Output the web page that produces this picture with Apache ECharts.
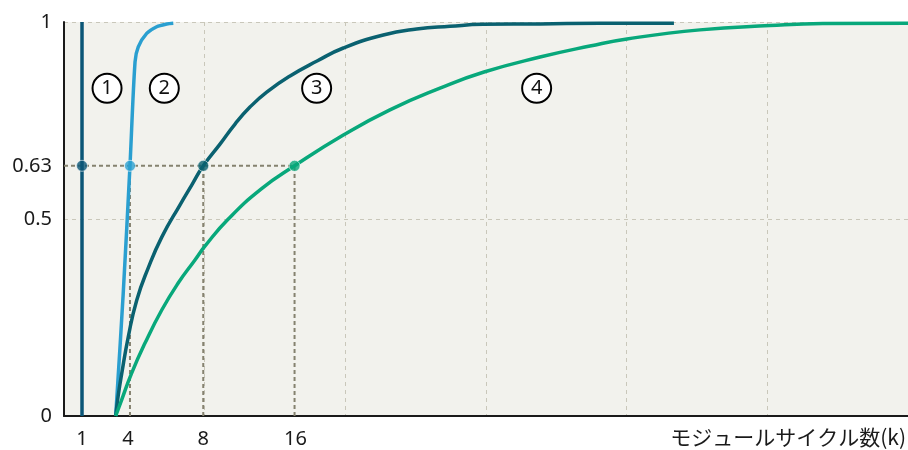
<!DOCTYPE html>
<html>
<head>
<meta charset="utf-8">
<script src="https://cdn.jsdelivr.net/npm/echarts@6/dist/echarts.min.js"></script>
<style>
  html, body { margin: 0; padding: 0; background: #ffffff; }
  #chart { width: 908px; height: 450px; }
</style>
</head>
<body>
<div id="chart"></div>
<script>
// ---- data ----
const xTickPos = [1.28, 4.55, 9.9, 16.45];
const xTickLabels = ['1', '4', '8', '16'];
const yTickPos = [0, 0.5, 0.635, 1];
const yTickLabels = ['0', '0.5', '0.63', '1'];
const xAxisName = 'モジュールサイクル数(k)';

const curve1 = [[1.28, 0], [1.28, 1]];
const curve2 = [[3.675, 0], [4.21, 0.311], [4.69, 0.635], [5.05, 0.899], [5.28, 0.937],
  [5.88, 0.971], [6.59, 0.988], [7.30, 0.995], [7.77, 0.997]];
const curve3 = [[3.675, 0], [3.86, 0.053], [4.10, 0.107], [4.57, 0.201], [5.17, 0.294],
  [5.99, 0.376], [6.95, 0.454], [8.25, 0.536], [9.08, 0.586], [9.90, 0.635],
  [11.09, 0.690], [12.16, 0.741], [13.22, 0.784], [14.41, 0.822], [16.07, 0.863],
  [17.99, 0.901], [19.86, 0.934], [22.70, 0.967], [25.07, 0.982], [27.44, 0.989],
  [29.79, 0.994], [33.84, 0.995], [38.1, 0.997], [43.36, 0.997]];
const curve4 = [[3.675, 0], [4.10, 0.041], [4.81, 0.109], [5.76, 0.185], [6.95, 0.269],
  [8.13, 0.338], [9.31, 0.396], [10.02, 0.431], [11.68, 0.5], [14.05, 0.577],
  [16.39, 0.635], [19.86, 0.713], [23.17, 0.777], [26.73, 0.832], [29.86, 0.873],
  [33.84, 0.911], [37.39, 0.939], [40.02, 0.957], [45.21, 0.980], [50.19, 0.991],
  [53.95, 0.996], [60, 0.997]];

const dotX = [1.28, 4.69, 9.90, 16.39];   // where each curve reaches 0.63
const dotY = 0.635;
const guideX = [4.69, 9.90, 16.39];      // dotted drop lines

const tagText = ['1', '2', '3', '4'];
const tagX = [3.06, 7.13, 17.96, 33.6];
const tagY = 0.832;

// ---- styles ----
const colors = ['#0b5677', '#2a9fd0', '#0a6170', '#08a87b'];
const guideColor = '#85826f';
const gridColor = '#c9c7ba';

const curves = [curve1, curve2, curve3, curve4];

const series = [];
// guides
series.push({
  type: 'line', silent: true, symbol: 'none', z: 2,
  data: [[0, dotY], [dotX[dotX.length - 1], dotY]],
  lineStyle: { color: guideColor, width: 2, type: [4, 3] }
});
guideX.forEach(function (gx) {
  series.push({
    type: 'line', silent: true, symbol: 'none', z: 2,
    data: [[gx, 0], [gx, dotY]],
    lineStyle: { color: guideColor, width: 2, type: [4, 3] }
  });
});
// curves
curves.forEach(function (c, i) {
  series.push({
    type: 'line', silent: true, showSymbol: false, symbol: 'none', z: 3,
    smooth: i === 0 ? false : (i === 1 ? 0.3 : 0.5),
    data: c,
    lineStyle: { color: colors[i], width: 3.5 }
  });
});
// dots
series.push({
  type: 'scatter', silent: true, z: 5, symbolSize: 11,
  data: dotX.map(function (x, i) {
    return { value: [x, dotY], itemStyle: { color: colors[i] } };
  }),
  itemStyle: { borderColor: 'rgba(255,255,255,0.7)', borderWidth: 1 }
});
// circled tags
series.push({
  type: 'scatter', silent: true, z: 6, symbolSize: 29,
  data: tagX.map(function (x, i) { return { value: [x, tagY], name: tagText[i] }; }),
  itemStyle: { color: '#ffffff', borderColor: '#000000', borderWidth: 2, opacity: 1 },
  label: {
    show: true, position: 'inside', formatter: function (p) { return p.name; },
    fontFamily: 'Noto Sans', fontSize: 20, color: '#111111'
  }
});

function pickLabel(positions, labels) {
  return function (v) {
    for (let i = 0; i < positions.length; i++) {
      if (Math.abs(v - positions[i]) < 1e-6) return labels[i];
    }
    return '';
  };
}

const chart = echarts.init(document.getElementById('chart'), null, { renderer: 'canvas' });
chart.setOption({
  animation: false,
  backgroundColor: '#ffffff',
  textStyle: { fontFamily: 'Noto Sans' },
  grid: {
    left: 64, right: 0, top: 22, bottom: 34,
    show: true, backgroundColor: '#f2f2ed', borderWidth: 0,
    outerBoundsMode: 'none', containLabel: false
  },
  xAxis: {
    type: 'value', min: 0, max: 60, interval: 10,
    name: xAxisName, nameLocation: 'end', nameGap: -2,
    nameTextStyle: {
      fontFamily: 'Noto Sans CJK JP', fontSize: 21, color: '#1a1a1a',
      align: 'right', verticalAlign: 'top', padding: [11, 0, 0, 0]
    },
    axisLine: { show: true, onZero: false, lineStyle: { color: '#1a1a1a', width: 2 } },
    axisTick: { show: false },
    axisLabel: {
      customValues: xTickPos, formatter: pickLabel(xTickPos, xTickLabels),
      fontSize: 20, color: '#1a1a1a', margin: 13
    },
    splitLine: { show: true, lineStyle: { color: gridColor, width: 1, type: [4, 4] } }
  },
  yAxis: {
    type: 'value', min: 0, max: 1, interval: 0.5,
    axisLine: { show: true, lineStyle: { color: '#1a1a1a', width: 2 } },
    axisTick: { show: false },
    axisLabel: {
      customValues: yTickPos, formatter: pickLabel(yTickPos, yTickLabels),
      fontSize: 20, color: '#1a1a1a', margin: 12
    },
    splitLine: { show: true, lineStyle: { color: gridColor, width: 1, type: [4, 4] } }
  },
  series: series
});
</script>
</body>
</html>
